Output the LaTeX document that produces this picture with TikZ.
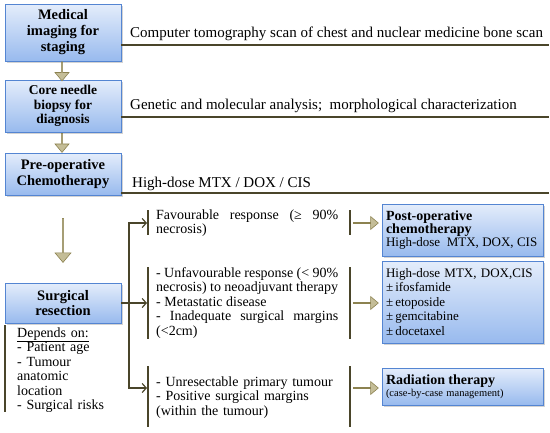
\documentclass[tikz,border=0pt]{standalone}
\usepackage{fontspec}
\setmainfont{Liberation Serif}
\definecolor{stagetop}{RGB}{228,237,251}
\definecolor{stagebot}{RGB}{152,186,238}
\definecolor{stageline}{RGB}{84,133,210}
\definecolor{arrfill}{RGB}{196,189,151}
\definecolor{arrline}{RGB}{140,130,80}
\definecolor{rulecol}{RGB}{74,69,42}
\usetikzlibrary{arrows.meta,shapes.arrows,shadows,calc}

\begin{document}
\begin{tikzpicture}[x=1pt,y=-1pt,
  stagebox/.style={draw=stageline,line width=0.8pt,top color=stagetop,bottom color=stagebot,
    drop shadow={shadow xshift=1.5pt,shadow yshift=-1.5pt,opacity=0.35},
    minimum width=116pt,inner sep=2pt,align=center,font=\bfseries},
  treatbox/.style={stagebox,minimum width=161pt,text width=153pt,inner xsep=4pt,align=left,font=\normalfont},
  blockarr/.style={single arrow,draw=arrline,fill=arrfill,line width=0.6pt,
    inner sep=0pt,single arrow head extend=3.5pt,single arrow tip angle=80},
  hrule/.style={rulecol,line width=1.6pt},
  vbar/.style={rulecol,line width=1.4pt},
  treearr/.style={rulecol,line width=1.2pt,-{Straight Barb[length=4pt,width=9pt]}},
  plain/.style={inner sep=0pt,font=\fontsize{14}{14.5}\selectfont}
]
  \useasboundingbox (0,0) rectangle (550,432);

  % Stages on the left
  \node[stagebox,minimum height=57pt,font=\fontsize{14.5}{16}\selectfont\bfseries] (med) at (63,32.5)
    {Medical\\imaging for\\staging};
  \node[stagebox,minimum height=52pt,font=\fontsize{13.5}{14.5}\selectfont\bfseries] (core) at (63,106)
    {Core needle\\biopsy for\\diagnosis};
  \node[stagebox,minimum height=42pt,font=\fontsize{14.5}{16}\selectfont\bfseries] (preop) at (63,174)
    {Pre-operative\\Chemotherapy};
  \node[stagebox,minimum height=40pt,font=\fontsize{14.5}{15}\selectfont\bfseries] (surg) at (63,303)
    {Surgical\\resection};

  % Block arrows between stages
  \node[blockarr,shape border rotate=270,minimum height=19pt,minimum width=14pt] (a1) at (62,71) {};
  \node[blockarr,shape border rotate=270,minimum height=19pt,minimum width=14pt] (a2) at (62,142.5) {};
  \node[blockarr,shape border rotate=270,minimum height=44pt,minimum width=16pt] (a3) at (63,240) {};

  % Notes with rules
  \node[plain,anchor=base west,font=\fontsize{15}{15}\selectfont] (n1) at (130,37)
    {Computer tomography scan of chest and nuclear medicine bone scan};
  \node[plain,anchor=base west,font=\fontsize{15}{15}\selectfont] (n2) at (130,109)
    {Genetic and molecular analysis;\ \ morphological characterization};
  \node[plain,anchor=base west,font=\fontsize{15}{15}\selectfont] (n3) at (132,187)
    {High-dose MTX / DOX / CIS};
  \draw[hrule] (med.east |- 0,45) -- (549,45);
  \draw[hrule] (core.east |- 0,117) -- (549,117);
  \draw[hrule] (preop.east |- 0,193) -- (549,193);

  % Depends on
  \draw[vbar] (5,325) -- (5,412);
  \node[plain,anchor=base west,text width=100pt,align=left] (dep) at (17,337)
    {\underline{Depends on:}\\- Patient age\\- Tumour\\anatomic\\location\\- Surgical risks};

  % Response groups
  \node[plain,anchor=base west,text width=182pt,align=justify] (r1) at (156,219)
    {Favourable response (≥ 90\%\linebreak necrosis)};
  \node[plain,anchor=base west,text width=182pt,align=justify] (r2) at (156,277)
    {- Unfavourable response (< 90\%\linebreak necrosis) to neoadjuvant therapy\newline
     - Metastatic disease\newline - Inadequate surgical margins\linebreak (<2cm)};
  \node[plain,anchor=base west,text width=182pt,align=left] (r3) at (156,386)
    {- Unresectable primary tumour\\- Positive surgical margins\\(within the tumour)};

  \foreach \bx in {148,350} {
    \draw[vbar] (\bx,210) -- (\bx,235);
    \draw[vbar] (\bx,267) -- (\bx,339);
    \draw[vbar] (\bx,366) -- (\bx,427);
  }

  % Tree connectors
  \coordinate (fork) at (129,303);
  \coordinate (t1) at (147,223);
  \coordinate (t2) at (147,303);
  \coordinate (t3) at (147,388);
  \draw[treearr] (surg.east) -- (t2);
  \draw[treearr] (fork) |- (t1);
  \draw[treearr] (fork) |- (t3);

  % Treatments
  \node[treatbox,minimum height=52pt] (post) at (462.5,230)
    {{\fontsize{14}{14}\selectfont\bfseries Post-operative\\chemotherapy}\\
     {\fontsize{13}{14}\selectfont High-dose\ \ MTX, DOX, CIS}};
  \node[treatbox,minimum height=82pt,font=\fontsize{13}{14.5}\selectfont] (chemo) at (462.5,302)
    {High-dose MTX, DOX,CIS\\±\,ifosfamide\\±\,etoposide\\±\,gemcitabine\\±\,docetaxel};
  \node[treatbox,minimum height=37pt] (rad) at (462.5,386.5)
    {{\fontsize{14}{14}\selectfont\bfseries Radiation therapy}\\
     {\fontsize{10.5}{12}\selectfont (case-by-case management)}};

  \node[blockarr,minimum height=25pt,minimum width=13pt] (b1) at (365.5,223) {};
  \node[blockarr,minimum height=25pt,minimum width=13pt] (b2) at (365.5,303) {};
  \node[blockarr,minimum height=25pt,minimum width=13pt] (b3) at (365.5,388) {};
\end{tikzpicture}
\end{document}
